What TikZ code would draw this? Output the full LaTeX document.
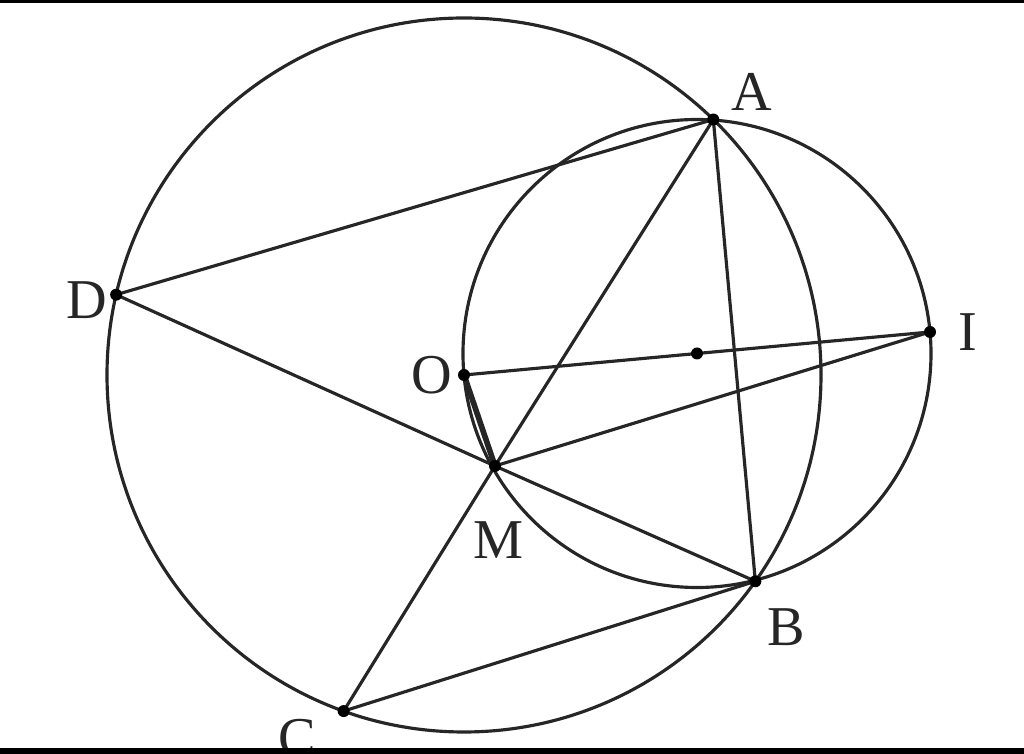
\documentclass[tikz,border=0pt]{standalone}
\usepackage{fontspec}
\setmainfont{Liberation Serif}
\usetikzlibrary{calc}
\begin{document}
\begin{tikzpicture}[
  geo/.style={line width=0.9pt, black!85},
  pt/.style={circle, fill=black, inner sep=0pt, minimum size=0.12cm},
  lbl/.style={font=\fontsize{16}{18}\selectfont, text=black!85}
]
\useasboundingbox (0,0) rectangle (10.24,-7.54);
\coordinate (O) at (4.64,-3.75);
\coordinate (P) at (6.97,-3.535);
\coordinate (A) at ($(O)+(45.7:3.57)$);
\coordinate (B) at ($(O)+(-35.3:3.57)$);
\coordinate (C) at ($(O)+(-109.7:3.57)$);
\coordinate (D) at ($(O)+(167.0:3.57)$);
\coordinate (I) at (9.30,-3.32);
\coordinate (M) at (4.95,-4.66);
% circles
\draw[geo] (O) circle (3.57);
\draw[geo] (P) circle (2.34);
% segments
\draw[geo] (D) -- (A);
\draw[geo] (D) -- (M) -- (B);
\draw[geo] (A) -- (M) -- (C);
\draw[geo] (M) -- (I);
\draw[geo] (O) -- (I);
\draw[geo] (A) -- (B);
\draw[geo] (C) -- (B);
\draw[geo, line width=1.6pt] (O) -- (M);
% points
\foreach \p in {A,B,C,D,O,I,M,P} \node[pt] at (\p) {};
% labels
\node[lbl] (lA) at (7.52,-0.92) {A};
\node[lbl] (lB) at (7.86,-6.27) {B};
\node[lbl] (lC) at (2.97,-7.38) {C};
\node[lbl] (lD) at (0.87,-3.00) {D};
\node[lbl] (lO) at (4.32,-3.75) {O};
\node[lbl] (lI) at (9.68,-3.32) {I};
\node[lbl] (lM) at (4.98,-5.40) {M};
% frame bands
\fill[black] (0,0) rectangle (10.24,-0.03);
\fill[black] (0,-7.485) rectangle (10.24,-7.54);
\end{tikzpicture}
\end{document}
